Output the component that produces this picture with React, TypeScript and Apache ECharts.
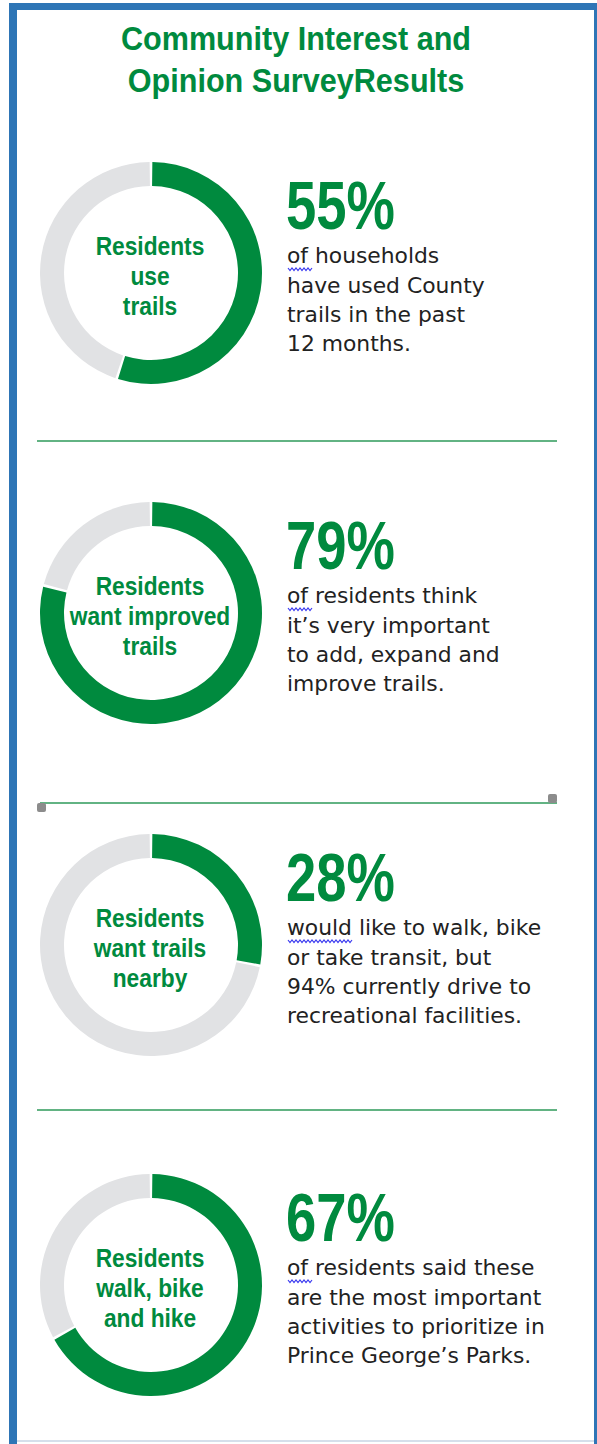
import React, { useEffect, useRef } from "react";
import * as echarts from "echarts";

const titleLines = ["Community Interest and", "Opinion SurveyResults"];
const percents = [55, 79, 28, 67];
const percentLabels = ["55%", "79%", "28%", "67%"];
const centerLabels = [
  ["Residents", "use", "trails"],
  ["Residents", "want improved", "trails"],
  ["Residents", "want trails", "nearby"],
  ["Residents", "walk, bike", "and hike"],
];
const bodyLines = [
  ["of households", "have used County", "trails in the past", "12 months."],
  ["of residents think", "it\u2019s very important", "to add, expand and", "improve trails."],
  ["would like to walk, bike", "or take transit, but", "94% currently drive to", "recreational facilities."],
  ["of residents said these", "are the most important", "activities to prioritize in", "Prince George\u2019s Parks."],
];
const firstWords = ["of", "of", "would", "of"];

const GREEN = "#008A3E";
const GRAY = "#E1E2E4";
const BLUE = "#2E75B6";
const rowCenters = [273, 613, 945, 1285];
const dividerYs = [441, 803, 1110];

export default function App() {
  const ref = useRef<HTMLDivElement>(null);
  useEffect(() => {
    if (!ref.current) return;
    const chart = echarts.init(ref.current, undefined, { renderer: "svg" });
    const cx = 151;
    const series: any[] = percents.map((p, i) => ({
      type: "pie",
      center: [cx, rowCenters[i]],
      radius: [87, 111],
      startAngle: 90,
      clockwise: true,
      padAngle: 1.4,
      silent: true,
      label: { show: false },
      labelLine: { show: false },
      data: [
        { value: p, itemStyle: { color: GREEN } },
        { value: 100 - p, itemStyle: { color: GRAY } },
      ],
    }));

    const graphic: any[] = [];
    // borders
    graphic.push({ type: "rect", shape: { x: 9, y: 3, width: 8, height: 1441 }, style: { fill: BLUE } });
    graphic.push({ type: "rect", shape: { x: 9, y: 3, width: 588, height: 7 }, style: { fill: BLUE } });
    graphic.push({ type: "rect", shape: { x: 594, y: 3, width: 3, height: 1441 }, style: { fill: BLUE } });
    graphic.push({ type: "line", shape: { x1: 17, y1: 1441, x2: 594, y2: 1441 }, style: { stroke: "#C9D5E4", lineWidth: 1.5 } });

    titleLines.forEach((t, i) => {
      graphic.push({
        type: "text",
        x: 296,
        y: 38 + i * 42,
        scaleX: 0.9,
        style: {
          text: t,
          fill: GREEN,
          font: "bold 34px 'Liberation Sans', Arial, sans-serif",
          textAlign: "center",
          textVerticalAlign: "middle",
        },
      });
    });

    // dividers
    dividerYs.forEach((y, i) => {
      graphic.push({
        type: "line",
        shape: { x1: i === 1 ? 40 : 37, y1: y, x2: 557, y2: y },
        style: { stroke: "#2E9A5A", lineWidth: 1.5 },
      });
    });
    graphic.push({ type: "rect", shape: { x: 37, y: 803, width: 9, height: 9, r: 2 }, style: { fill: "#8C8C8C" } });
    graphic.push({ type: "rect", shape: { x: 548, y: 794, width: 9, height: 9, r: 2 }, style: { fill: "#8C8C8C" } });

    rowCenters.forEach((cy, i) => {
      centerLabels[i].forEach((t, j) => {
        graphic.push({
          type: "text",
          x: cx - 1,
          y: cy - 27 + j * 30,
          scaleX: 0.91,
          style: {
            text: t,
            fill: GREEN,
            font: "bold 25px 'Liberation Sans', Arial, sans-serif",
            textAlign: "center",
            textVerticalAlign: "middle",
          },
        });
      });
      graphic.push({
        type: "text",
        x: 286,
        y: cy - 68,
        scaleX: 0.8,
        style: {
          text: percentLabels[i],
          fill: GREEN,
          font: "bold 68px 'Liberation Sans', Arial, sans-serif",
          textAlign: "left",
          textVerticalAlign: "middle",
        },
      });
      bodyLines[i].forEach((t, j) => {
        graphic.push({
          type: "text",
          x: 287,
          y: cy - 17 + j * 29.3,
          scaleX: 1.04,
          style: {
            text: t,
            fill: "#222222",
            font: "21px 'DejaVu Sans', sans-serif",
            textAlign: "left",
            textVerticalAlign: "middle",
          },
        });
      });
      // spell-check squiggle
      const w = firstWords[i] === "of" ? 24 : 64;
      const pts: number[][] = [];
      const y0 = cy - 17 + 12;
      for (let k = 0; k <= w / 2; k++) {
        pts.push([288 + k * 2, y0 + (k % 2 === 0 ? 0 : 2.5)]);
      }
      graphic.push({ type: "polyline", shape: { points: pts }, style: { stroke: "#3A3AF0", lineWidth: 1.2, fill: "none" } });
    });

    chart.setOption({
      animation: false,
      backgroundColor: "#ffffff",
      series,
      graphic,
    });
    return () => chart.dispose();
  }, []);
  return (
    <div
      ref={ref}
      style={{ position: "absolute", left: 0, top: 0, width: 597, height: 1444 }}
    />
  );
}
